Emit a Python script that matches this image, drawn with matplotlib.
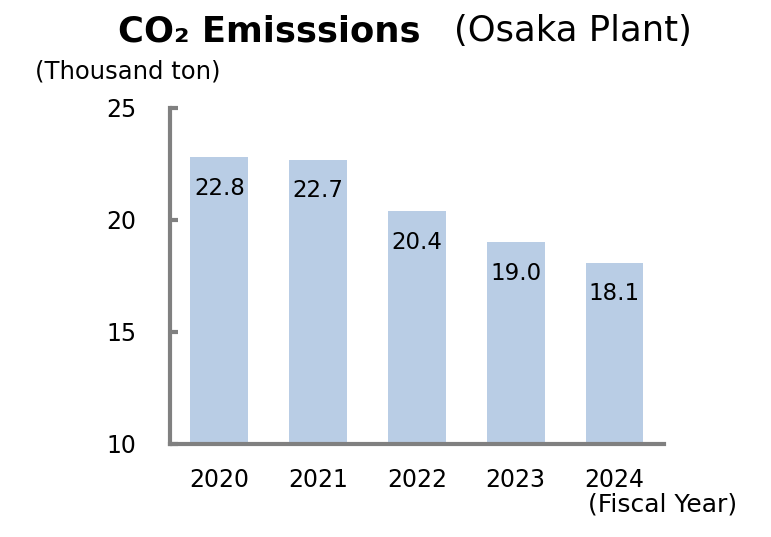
import matplotlib
matplotlib.use("Agg")
import matplotlib.pyplot as plt

plt.rcParams['font.family'] = ['DejaVu Sans', 'Noto Sans CJK JP']

years = ["2020", "2021", "2022", "2023", "2024"]
values = [22.8, 22.7, 20.4, 19.0, 18.1]
yticks = [10, 15, 20, 25]

fig = plt.figure(figsize=(7.71, 5.37), dpi=100)
ax = fig.add_axes([0.2205, 0.1732, 0.8610 - 0.2205, 0.7989 - 0.1732])

x = list(range(len(years)))
ax.bar(x, values, width=0.585, color="#B9CDE5", zorder=1)
for xi, v in zip(x, values):
    ax.text(xi, v - 1.4, f"{v:.1f}", ha="center", va="center", fontsize=16.5, color="black")

ax.set_xlim(-0.5, 4.5)
ax.set_ylim(10, 25)
ax.set_yticks(yticks)
ax.set_xticks(x)
ax.set_xticklabels(years)
for s in ["top", "right"]:
    ax.spines[s].set_visible(False)
for s in ["left", "bottom"]:
    ax.spines[s].set_color("#808080")
    ax.spines[s].set_linewidth(3)
    ax.spines[s].set_zorder(3)
ax.tick_params(axis="y", direction="in", length=6, width=3, color="#808080", pad=24, labelsize=17)
ax.tick_params(axis="x", length=0, pad=17, labelsize=17)

fig.text(118 / 771, 0.942, "CO₂ Emisssions", fontsize=25.5, fontweight="bold", ha="left", va="center")
fig.text(692 / 771, 0.942, "(Osaka Plant)", fontsize=25.5, ha="right", va="center")
fig.text(35 / 771, 0.866, "(Thousand ton)", fontsize=17.5, ha="left", va="center")
fig.text(588 / 771, 0.0596, "(Fiscal Year)", fontsize=18, ha="left", va="center")

fig.savefig("out.png", dpi=100)
